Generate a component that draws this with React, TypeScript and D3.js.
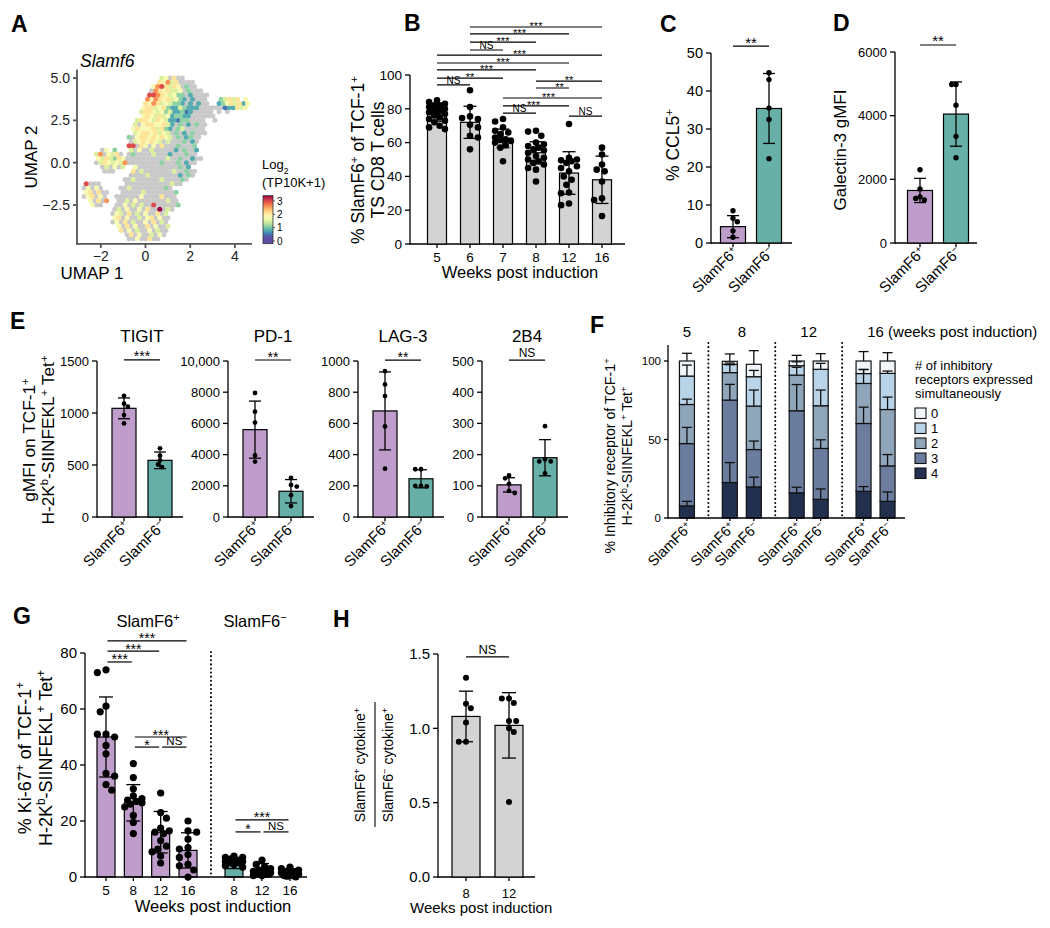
import React from 'react';
import * as d3 from 'd3';

const FONT = "'Liberation Sans', Arial, Helvetica, sans-serif";
const PURPLE = '#bf9dcb';
const TEAL = '#66b0a7';
const GREY_BAR = '#d3d3d3';
const UMAP_GREY = '#c9c9c9';

// ---------------- Panel A: UMAP, Slamf6 expression (grid) ----------
// ' ' = no cell, '.' = not detected (grey), digits = expression class
const umapRows: string[] = [
  '                    45.6..',
  '                   65746....',
  '                  5786465.3..',
  '                 .7656445.3...',
  '                 887654533.2....',
  '                7576564532.2...   34646 5',
  '                6576454332.2.2..  23564625',
  '               56645632243222......122645',
  '               4665453422312..... . .',
  '               565464523322......',
  '              4665465422133....  .',
  '             4.56655642.3.2.3..',
  '             5655564632.34.....',
  '             456656454.3.2.3...',
  '            3.566565654.3.23..',
  '            .4565654.4...3.2.',
  '            88.65.5.6...3...3',
  '     .5 3   4.5..4.....2.3..2',
  '    47.546. .3....4...2...3..',
  '    5464365..........4..3..2..',
  '    .4654547........3...3.2..',
  '     .4.5.4  5..........3.2',
  '      ...    6.4.......4..3..',
  '            ....4.......2.3.',
  '           ..4......4....3.',
  ' 8...      ...........4..',
  ' .5.5.    ..4........3.',
  ' 56.6..   .....4.......3',
  ' .56.5.  ......5....6...',
  '  5.6.7  ..4.5.......4..',
  '   5..   ..5.4.4..8.....3',
  '        .4.5..5.6..9.4.',
  '        .54.6.4.5..6.4',
  '        56.5..4.56.5..',
  '        .5.6.4..5.6.4.',
  '         5.6.5..6.5..4',
  '          6.5.4..5.4..',
  '           .6.5..4.5.',
  '            ..5..6..',
];
const umapLevels: Record<string, number> = {
  '1': 0.5, '2': 0.8, '3': 1.1, '4': 1.5, '5': 1.8, '6': 2.1, '7': 2.6, '8': 3.0, '9': 3.4,
};
const umapGrid = { x0: -2.93, dx: 0.183, y0: 5.0, dy: 0.25 };
const umapXTicks = [-2, 0, 2, 4];
const umapYTicks = [-2.5, 0, 2.5, 5];
const colorbarTicks = [0, 1, 2, 3];

// ---------------- Panel B ----------------
const bWeeks = ['5', '6', '7', '8', '12', '16'];
const bMeans = [77, 72, 62.5, 54, 42, 38];
const bSDs = [4.3, 9.5, 5.5, 6.5, 12.6, 14];
const bPoints = [
  [85, 84, 83, 82, 82, 81, 80, 80, 79, 79, 78, 78, 77, 76, 75, 74, 73, 72, 70, 69, 68],
  [91, 81, 75.5, 74.5, 74, 70.5, 69, 64, 63, 56],
  [74, 72.5, 69, 67, 66, 65, 63, 62, 61.5, 61, 60, 58.5, 57, 49],
  [67, 66.5, 64, 60, 59, 58, 57, 56, 55.5, 54, 52, 51, 50, 49, 48, 47, 45, 44, 37],
  [71, 51, 50, 49.5, 49, 48, 46, 45, 43, 40, 38, 35, 30.5, 30, 24, 23],
  [57, 53, 47, 44, 43, 37, 27, 26, 16.5],
];
const bYTicks = [0, 20, 40, 60, 80, 100];
const bSig = [
  { a: '6', b: '16', level: 128.4, label: '***' },
  { a: '6', b: '12', level: 124.3, label: '***' },
  { a: '6', b: '8', level: 119.5, label: '***' },
  { a: '6', b: '7', level: 114.8, label: 'NS' },
  { a: '5', b: '16', level: 111.8, label: '***' },
  { a: '5', b: '12', level: 107.1, label: '***' },
  { a: '5', b: '8', level: 103, label: '***' },
  { a: '5', b: '7', level: 98.2, label: '**' },
  { a: '5', b: '6', level: 94.1, label: 'NS' },
  { a: '8', b: '16', level: 96.4, label: '**' },
  { a: '8', b: '12', level: 92.3, label: '**' },
  { a: '7', b: '16', level: 86.4, label: '***' },
  { a: '7', b: '12', level: 81.7, label: '***' },
  { a: '7', b: '8', level: 77.5, label: 'NS' },
  { a: '12', b: '16', level: 75.7, label: 'NS' },
];

// ---------------- Panels C, D ----------------
const slamGroups = ['SlamF6^{+}', 'SlamF6^{−}'];
const cMeans = [4.3, 35.4];
const cSDs = [2.9, 9.2];
const cPoints = [[8.5, 6.5, 5.6, 3.2, 1.5], [44.8, 43, 35.5, 32.5, 22.2]];
const cTicks = [0, 10, 20, 30, 40, 50];
const cSig = { label: '**', level: 51.8 };

const dMeans = [1650, 4050];
const dSDs = [380, 1010];
const dPoints = [[2300, 1700, 1450, 1400, 1350], [4980, 4980, 4330, 3350, 2680]];
const dTicks = [0, 2000, 4000, 6000];
const dSig = { label: '**', level: 6220 };

// ---------------- Panel E ----------------
const eMarkers = ['TIGIT', 'PD-1', 'LAG-3', '2B4'];
const eTicks = [
  [0, 500, 1000, 1500],
  [0, 2000, 4000, 6000, 8000, 10000],
  [0, 200, 400, 600, 800, 1000],
  [0, 100, 200, 300, 400, 500],
];
const ePosMeans = [1045, 5600, 680, 103];
const ePosSDs = [100, 1830, 250, 23];
const eNegMeans = [545, 1650, 245, 190];
const eNegSDs = [80, 750, 58, 58];
const ePosPoints = [
  [1165, 1090, 1060, 980, 900],
  [7950, 6750, 6050, 3950, 3550],
  [935, 850, 775, 580, 310],
  [133, 124, 106, 84, 77],
];
const eNegPoints = [
  [660, 590, 545, 505, 480],
  [2500, 2050, 1950, 1400, 700],
  [306, 306, 200, 200, 196],
  [291, 185, 178, 178, 140],
];
const eSigLabels = ['***', '**', '**', 'NS'];
const eSigLevels = [1510, 10064, 1006, 503];

// ---------------- Panel F ----------------
const fWeeks = ['5', '8', '12', '16'];
const fBarWeek = ['5', '8', '8', '12', '12', '16', '16'];
const fBarSign = ['+', '+', '−', '+', '−', '+', '−'];
const fKeys = ['4', '3', '2', '1', '0'];
const f4 = [7.7, 22.6, 19.8, 16, 11.9, 17, 10.6];
const f3 = [39.7, 52.5, 23.8, 52.3, 32.4, 43.2, 22.6];
const f2 = [24.9, 17.5, 27.7, 22.7, 27.2, 25.5, 35.9];
const f1 = [18.1, 5.3, 18.7, 6, 23.2, 6.3, 23];
const f0 = [9.6, 1.9, 7.9, 3, 5.3, 8, 7.9];
const fe4 = [2.9, 12.7, 6.2, 3.6, 6.6, 3, 6];
const fe3 = [10.3, 10, 5.4, 16.7, 5.5, 10.4, 7.2];
const fe2 = [3.4, 5, 10.2, 5, 10, 9, 7.9];
const fe1 = [7, 0.8, 4, 2.5, 3.8, 2.5, 1.5];
const fe0 = [4.9, 4.7, 8.7, 3.6, 4.7, 6, 5.3];
const fColors: Record<string, string> = {
  '0': '#f1f4f8', '1': '#b9d4e8', '2': '#8fa5ba', '3': '#6b7c9f', '4': '#222f4f',
};
const fTicks = [0, 50, 100];
const fLegendTitle = ['# of inhibitory', 'receptors expressed', 'simultaneously'];

// ---------------- Panel G ----------------
const gPosWeeks = ['5', '8', '12', '16'];
const gNegWeeks = ['8', '12', '16'];
const gPosMeans = [50, 26.5, 16, 9.5];
const gPosSDs = [14.3, 6.5, 7.4, 6.3];
const gNegMeans = [5, 2.2, 1.5];
const gNegSDs = [2, 2.6, 1.5];
const gPosPoints = [
  [74, 73, 61, 59, 51, 51, 50, 47, 44, 37, 36, 33, 31],
  [40.5, 35.5, 31.5, 29, 28, 27.5, 27, 26.5, 26, 25, 22, 19.5, 15.5],
  [30, 23, 21, 17.5, 16.5, 16, 15.5, 13, 11, 10, 9, 7.5, 5],
  [20, 16.5, 16, 13.5, 10.5, 10, 8, 7, 4.5, 4, 2.5, 0],
];
const gNegPoints = [
  [7.5, 7, 7, 6.5, 6, 5.5, 5.5, 5, 5, 4.5, 4, 3.5],
  [6, 4.5, 3.5, 3, 2.5, 2, 2, 1.5, 1, 1, 0.5, 0.5],
  [3.5, 3, 2.5, 2, 2, 1.5, 1, 1, 0.5, 0.5, 0.3, 0],
];
const gTicks = [0, 20, 40, 60, 80];
const gSig = [
  { set: 'pos', a: '5', b: '16', level: 84.3, label: '***' },
  { set: 'pos', a: '5', b: '12', level: 80.7, label: '***' },
  { set: 'pos', a: '5', b: '8', level: 76.8, label: '***' },
  { set: 'pos', a: '8', b: '16', level: 50, label: '***' },
  { set: 'pos', a: '8', b: '12', level: 46.4, label: '*' },
  { set: 'pos', a: '12', b: '16', level: 46.4, label: 'NS' },
  { set: 'neg', a: '8', b: '16', level: 20.4, label: '***' },
  { set: 'neg', a: '8', b: '12', level: 16.1, label: '*' },
  { set: 'neg', a: '12', b: '16', level: 16.1, label: 'NS' },
];

// ---------------- Panel H ----------------
const hWeeks = ['8', '12'];
const hMeans = [1.08, 1.02];
const hSDs = [0.17, 0.22];
const hPoints = [
  [1.34, 1.165, 1.135, 1.04, 0.91, 0.91],
  [1.2, 1.2, 1.17, 1.05, 1.05, 1.0, 0.975, 0.505],
];
const hTicks = [0, 0.5, 1, 1.5];
const hSig = { a: '8', b: '12', level: 1.48, label: 'NS' };

// =============== helpers =================
function Rich({ text, fs, ...rest }: any) {
  const parts: any[] = [];
  const re = /(\^\{[^}]*\}|_\{[^}]*\})/g;
  let last = 0;
  let m: RegExpExecArray | null;
  let k = 0;
  while ((m = re.exec(text))) {
    if (m.index > last) parts.push(<tspan key={k++}>{text.slice(last, m.index)}</tspan>);
    const sup = m[0][0] === '^';
    parts.push(
      <tspan key={k++} baselineShift={sup ? 'super' : 'sub'} fontSize={fs * 0.66}>
        {m[0].slice(2, -1)}
      </tspan>
    );
    last = m.index + m[0].length;
  }
  if (last < text.length) parts.push(<tspan key={k++}>{text.slice(last)}</tspan>);
  return (
    <text fontSize={fs} fill="#000" {...rest}>
      {parts}
    </text>
  );
}

function swarm(vals: number[], py: (v: number) => number, r: number, maxOff: number): number[] {
  const idx = vals.map((_, i) => i).sort((a, b) => vals[b] - vals[a]);
  const placed: { x: number; y: number }[] = [];
  const out: number[] = new Array(vals.length).fill(0);
  const minDist = 2 * r * 0.95;
  const step = r * 0.8;
  idx.forEach((i, n) => {
    const yy = py(vals[i]);
    const cands = [0];
    for (let k = 1; k * step <= maxOff + 1e-6; k++) {
      if (n % 2) cands.push(-k * step, k * step);
      else cands.push(k * step, -k * step);
    }
    let best = 0;
    let bestD = -1;
    for (const c of cands) {
      let md = Infinity;
      for (const p of placed) md = Math.min(md, Math.hypot(p.x - c, p.y - yy));
      if (md >= minDist) {
        best = c;
        break;
      }
      if (md > bestD) {
        bestD = md;
        best = c;
      }
    }
    placed.push({ x: best, y: yy });
    out[i] = best;
  });
  return out;
}

function YAxis({ x, y, ticks, fmt = (d: number) => String(d), fs, top, tl = 5, sw = 1.3, color = '#000', gap = 3 }: any) {
  const y0 = y.range()[0];
  const yt = top ?? y.range()[1];
  return (
    <g>
      <line x1={x} x2={x} y1={y0 + sw / 2} y2={yt} stroke={color} strokeWidth={sw} />
      {ticks.map((t: number) => (
        <g key={t}>
          <line x1={x - tl} x2={x} y1={y(t)} y2={y(t)} stroke={color} strokeWidth={sw} />
          <text x={x - tl - gap} y={y(t)} dy="0.36em" textAnchor="end" fontSize={fs} fill={color === '#000' ? '#000' : '#222'}>
            {fmt(t)}
          </text>
        </g>
      ))}
    </g>
  );
}

function XAxis({ x0, x1, y, ticks = [], tl = 4, sw = 1.3 }: any) {
  return (
    <g>
      <line x1={x0} x2={x1} y1={y} y2={y} stroke="#000" strokeWidth={sw} />
      {ticks.map((t: number, i: number) => (
        <line key={i} x1={t} x2={t} y1={y} y2={y + tl} stroke="#000" strokeWidth={sw} />
      ))}
    </g>
  );
}

function Sig({ x1, x2, y, label, fs = 11, nsFs = 11, starDy = 2, nsDy = -1.5, sw = 1.1, dx = 0 }: any) {
  const isNS = label === 'NS';
  return (
    <g>
      <line x1={x1} x2={x2} y1={y} y2={y} stroke="#000" strokeWidth={sw} />
      <text x={(x1 + x2) / 2 + dx} y={y + (isNS ? nsDy : starDy)} textAnchor="middle" fontSize={isNS ? nsFs : fs} fill="#000">
        {label}
      </text>
    </g>
  );
}

function BarDots({ cx, bw, y, mean, sd, pts, fill, r, cap, maxOff }: any) {
  const offs = swarm(pts, y, r, maxOff);
  const y0 = y(0);
  const lo = y(Math.max(0, mean - sd));
  const hi = y(mean + sd);
  return (
    <g>
      <rect x={cx - bw / 2} y={y(mean)} width={bw} height={y0 - y(mean)} fill={fill} stroke="#000" strokeWidth={1.2} />
      {pts.map((v: number, i: number) => (
        <circle key={i} cx={cx + offs[i]} cy={y(v)} r={r} fill="#000" />
      ))}
      <line x1={cx} x2={cx} y1={lo} y2={hi} stroke="#000" strokeWidth={1.3} />
      <line x1={cx - cap / 2} x2={cx + cap / 2} y1={hi} y2={hi} stroke="#000" strokeWidth={1.3} />
      {mean - sd > 0 && <line x1={cx - cap / 2} x2={cx + cap / 2} y1={lo} y2={lo} stroke="#000" strokeWidth={1.3} />}
    </g>
  );
}

function RotLabel({ x, y, text, fs }: any) {
  return <Rich text={text} fs={fs} textAnchor="end" transform={`translate(${x},${y}) rotate(-45)`} />;
}

function VLabel({ x, y, text, fs }: any) {
  return <Rich text={text} fs={fs} textAnchor="middle" transform={`translate(${x},${y}) rotate(-90)`} />;
}

function Letter({ x, y, t }: any) {
  return (
    <text x={x} y={y} fontSize={23} fontWeight="bold">
      {t}
    </text>
  );
}

// =============== Panel A =================
function PanelA() {
  const ux = d3.scaleLinear().domain([0, 4]).range([145.5, 234.9]);
  const uy = d3.scaleLinear().domain([-2.5, 5]).range([205, 78]);
  const col = d3
    .scaleSequential((t: number) => d3.interpolateSpectral(1 - t))
    .domain([0.3, 3.4])
    .clamp(true);
  const greys: number[][] = [];
  const colored: number[][] = [];
  umapRows.forEach((row, r) => {
    for (let c = 0; c < row.length; c++) {
      const ch = row[c];
      if (ch === ' ') continue;
      const u1 = umapGrid.x0 + umapGrid.dx * (c + (r % 2 ? 0.5 : 0));
      const u2 = umapGrid.y0 - umapGrid.dy * r;
      if (ch === '.') greys.push([u1, u2]);
      else colored.push([u1, u2, umapLevels[ch]]);
    }
  });
  colored.sort((a, b) => a[2] - b[2]);
  const axY = uy(-4.8);
  const axX = 77;
  const cb = d3.scaleLinear().domain([0, 3]).range([241, 201]);
  const cbTop = 3.4;
  const cbBot = -0.2;
  const stops = d3.range(0, 1.0001, 0.05).map((t) => ({ t, c: col(cbBot + t * (cbTop - cbBot)) }));
  const fmt = d3.format('.1f');
  return (
    <g>
      <defs>
        <linearGradient id="cbgrad" x1="0" y1="1" x2="0" y2="0">
          {stops.map((s, i) => (
            <stop key={i} offset={s.t} stopColor={s.c as string} />
          ))}
        </linearGradient>
      </defs>
      <Letter x={11} y={32} t="A" />
      <text x={80} y={67} fontSize={17.5} fontStyle="italic">
        Slamf6
      </text>
      {greys.map((p, i) => (
        <circle key={'g' + i} cx={ux(p[0])} cy={uy(p[1])} r={2.5} fill={UMAP_GREY} />
      ))}
      {colored.map((p, i) => (
        <circle key={'c' + i} cx={ux(p[0])} cy={uy(p[1])} r={2.5} fill={col(p[2]) as string} />
      ))}
      <YAxis x={axX} y={d3.scaleLinear().domain([-4.8, 5.5]).range([axY, uy(5.5)])} ticks={umapYTicks} fmt={fmt} fs={14} color="#555" sw={1.8} tl={4} />
      <line x1={axX - 0.9} x2={252} y1={axY} y2={axY} stroke="#555" strokeWidth={1.8} />
      {umapXTicks.map((t) => (
        <g key={t}>
          <line x1={ux(t)} x2={ux(t)} y1={axY} y2={axY + 4} stroke="#555" strokeWidth={1.8} />
          <text x={ux(t)} y={axY + 17} textAnchor="middle" fontSize={14} fill="#222">
            {d3.format('d')(t)}
          </text>
        </g>
      ))}
      <text x={92} y={axY + 35} textAnchor="middle" fontSize={17}>
        UMAP 1
      </text>
      <text transform={`translate(37,157) rotate(-90)`} textAnchor="middle" fontSize={17}>
        UMAP 2
      </text>
      <Rich text="Log_{2}" fs={13} x={262} y={169} />
      <text x={262} y={187} fontSize={13}>
        (TP10K+1)
      </text>
      <rect x={263} y={cb(cbTop)} width={10} height={cb(cbBot) - cb(cbTop)} fill="url(#cbgrad)" stroke="#333" strokeWidth={0.8} />
      {colorbarTicks.map((t) => (
        <g key={t}>
          <line x1={273} x2={275} y1={cb(t)} y2={cb(t)} stroke="#333" strokeWidth={0.8} />
          <text x={277} y={cb(t)} dy="0.35em" fontSize={10}>
            {t}
          </text>
        </g>
      ))}
    </g>
  );
}

// =============== Panel B =================
// small horizontal nudges of a few bracket labels, as in the reference, so they do not collide
const bLabelNudge: Record<string, number> = { '8-12': 7, '7-16': -4, '7-12': -2.5 };

function PanelB() {
  const y = d3.scaleLinear().domain([0, 100]).range([244, 75]);
  const x = d3.scalePoint<string>().domain(bWeeks).range([437, 602]);
  return (
    <g>
      <Letter x={404} y={31} t="B" />
      <YAxis x={410} y={y} ticks={bYTicks} fs={13.5} />
      <XAxis x0={410} x1={625} y={244} ticks={bWeeks.map((w) => x(w))} />
      {bWeeks.map((w, i) => (
        <BarDots key={w} cx={x(w)} bw={19} y={y} mean={bMeans[i]} sd={bSDs[i]} pts={bPoints[i]} fill={GREY_BAR} r={3.3} cap={13} maxOff={10} />
      ))}
      {bWeeks.map((w) => (
        <text key={w} x={x(w)} y={262} textAnchor="middle" fontSize={13.5}>
          {w}
        </text>
      ))}
      <text x={520} y={278} textAnchor="middle" fontSize={16.5}>
        Weeks post induction
      </text>
      <VLabel x={364} y={160} text="% SlamF6^{+} of TCF-1^{+}" fs={17.5} />
      <VLabel x={384} y={160} text="TS CD8 T cells" fs={17.5} />
      {bSig.map((s, i) => (
        <Sig key={i} x1={x(s.a)} x2={x(s.b)} y={y(s.level)} label={s.label} fs={11} nsFs={10} starDy={3.2} nsDy={-0.8} sw={1.2}
          dx={bLabelNudge[`${s.a}-${s.b}`] ?? 0} />
      ))}
    </g>
  );
}

// =============== Two-bar panel (C, D, E) =================
function TwoBar({ ax, axEnd, o1, o2, y, ticks, fmt, tfs, bw, r, cap, maxOff, means, sds, pts, sigLabel, sigLevel, sigFs, nsFs, lfs }: any) {
  const x = d3.scalePoint<string>().domain(slamGroups).range([ax + o1, ax + o2]);
  const fills = [PURPLE, TEAL];
  return (
    <g>
      <YAxis x={ax} y={y} ticks={ticks} fmt={fmt} fs={tfs} />
      <XAxis x0={ax} x1={axEnd} y={y(0)} ticks={slamGroups.map((g) => x(g))} />
      {slamGroups.map((g, i) => (
        <BarDots key={g} cx={x(g)} bw={bw} y={y} mean={means[i]} sd={sds[i]} pts={pts[i]} fill={fills[i]} r={r} cap={cap} maxOff={maxOff} />
      ))}
      {slamGroups.map((g) => (
        <RotLabel key={g} x={(x(g) as number) + 6} y={y(0) + 10} text={g} fs={lfs} />
      ))}
      <Sig x1={x(slamGroups[0])} x2={x(slamGroups[1])} y={y(sigLevel)} label={sigLabel} fs={sigFs} nsFs={nsFs ?? 12} starDy={1.5} nsDy={-3} sw={1.2} />
    </g>
  );
}

function PanelC() {
  const y = d3.scaleLinear().domain([0, 50]).range([243, 53]);
  return (
    <g>
      <Letter x={660} y={32} t="C" />
      <TwoBar ax={711} axEnd={792} o1={22} o2={58} y={y} ticks={cTicks} tfs={14.5} bw={25} r={2.7} cap={12} maxOff={6}
        means={cMeans} sds={cSDs} pts={cPoints} sigLabel={cSig.label} sigLevel={cSig.level} sigFs={15} lfs={15} />
      <VLabel x={679} y={145} text="% CCL5^{+}" fs={17.5} />
    </g>
  );
}

function PanelD() {
  const y = d3.scaleLinear().domain([0, 6000]).range([243, 52]);
  return (
    <g>
      <Letter x={833} y={31} t="D" />
      <TwoBar ax={895} axEnd={977} o1={25} o2={61} y={y} ticks={dTicks} tfs={13} bw={25} r={2.7} cap={12} maxOff={6}
        means={dMeans} sds={dSDs} pts={dPoints} sigLabel={dSig.label} sigLevel={dSig.level} sigFs={15} lfs={15} />
      <VLabel x={846} y={150} text="Galectin-3 gMFI" fs={17} />
    </g>
  );
}

function PanelE() {
  const axes = [97, 228, 358, 482];
  const maxes = [1500, 10000, 1000, 500];
  const fmt = (t: number) => (t >= 10000 ? d3.format(',')(t) : String(t));
  return (
    <g>
      <Letter x={10} y={329} t="E" />
      {eMarkers.map((mk, i) => {
        const y = d3.scaleLinear().domain([0, maxes[i]]).range([517, 361]);
        const ax = axes[i];
        return (
          <g key={mk}>
            <text x={ax + 45} y={342} textAnchor="middle" fontSize={17}>
              {mk}
            </text>
            <TwoBar ax={ax} axEnd={ax + 86} o1={27} o2={63} y={y} ticks={eTicks[i]} fmt={fmt} tfs={13} bw={24} r={2.4} cap={12} maxOff={6}
              means={[ePosMeans[i], eNegMeans[i]]} sds={[ePosSDs[i], eNegSDs[i]]} pts={[ePosPoints[i], eNegPoints[i]]}
              sigLabel={eSigLabels[i]} sigLevel={eSigLevels[i]} sigFs={14} nsFs={12} lfs={15} />
          </g>
        );
      })}
      <VLabel x={35} y={440} text="gMFI on TCF-1^{+}" fs={17.3} />
      <VLabel x={54} y={440} text="H-2K^{b}-SIINFEKL^{+} Tet^{+}" fs={17.3} />
    </g>
  );
}

// =============== Panel F =================
function PanelF() {
  const y = d3.scaleLinear().domain([0, 100]).range([518, 361]);
  const gs = d3.scaleBand<string>().domain(fWeeks).range([641.5, 909]);
  const bw = 15;
  const within = 24;
  const xs = fBarWeek.map((w, i) => {
    const n = fBarWeek.filter((v) => v === w).length;
    const c = (gs(w) as number) + gs.bandwidth() / 2;
    if (n === 1) return c + within / 2;
    return c + (fBarSign[i] === '+' ? -within / 2 : within / 2);
  });
  const segs: Record<string, number[]> = { '4': f4, '3': f3, '2': f2, '1': f1, '0': f0 };
  const errs: Record<string, number[]> = { '4': fe4, '3': fe3, '2': fe2, '1': fe1, '0': fe0 };
  const table = fBarWeek.map((_, i) => {
    const o: any = {};
    fKeys.forEach((k) => (o[k] = segs[k][i]));
    return o;
  });
  const series = d3.stack().keys(fKeys)(table);
  const groupCenters = fWeeks.map((w) => d3.mean(xs.filter((_, i) => fBarWeek[i] === w)) as number);
  return (
    <g>
      <Letter x={590} y={333} t="F" />
      {fWeeks.slice(1).map((w) => (
        <line key={w} x1={gs(w)} x2={gs(w)} y1={343} y2={518} stroke="#000" strokeWidth={2} strokeDasharray="0.1,4" strokeLinecap="round" />
      ))}
      {series.map((s) =>
        s.map((d, i) => (
          <rect key={s.key + i} x={xs[i] - bw / 2} y={y(d[1])} width={bw} height={y(d[0]) - y(d[1])} fill={fColors[s.key]} stroke="#111" strokeWidth={1.2} />
        ))
      )}
      {series.map((s) =>
        s.map((d, i) => {
          const e = errs[s.key][i];
          const top = y(d[1] + e);
          return (
            <g key={'e' + s.key + i}>
              <line x1={xs[i]} x2={xs[i]} y1={y(d[1])} y2={top} stroke="#111" strokeWidth={1.3} />
              <line x1={xs[i] - 5} x2={xs[i] + 5} y1={top} y2={top} stroke="#111" strokeWidth={1.3} />
            </g>
          );
        })
      )}
      <YAxis x={668} y={y} ticks={fTicks} fs={11.5} top={345} tl={4} />
      <XAxis x0={668} x1={905} y={518} ticks={xs} tl={3} />
      {fBarWeek.map((_, i) => (
        <RotLabel key={i} x={xs[i] + 6} y={528} text={fBarSign[i] === '+' ? 'SlamF6^{+}' : 'SlamF6^{−}'} fs={14.5} />
      ))}
      {fWeeks.map((w, i) =>
        i < fWeeks.length - 1 ? (
          <text key={w} x={groupCenters[i]} y={337} textAnchor="middle" fontSize={15}>
            {w}
          </text>
        ) : (
          <text key={w} x={groupCenters[i] - 8.3} y={337} fontSize={15}>
            {w} (weeks post induction)
          </text>
        )
      )}
      {fLegendTitle.map((t, i) => (
        <text key={t} x={915} y={370 + i * 14} fontSize={13}>
          {t}
        </text>
      ))}
      {['0', '1', '2', '3', '4'].map((k, i) => (
        <g key={k}>
          <rect x={915} y={408 + i * 15} width={11} height={10.5} fill={fColors[k]} stroke="#111" strokeWidth={1.1} />
          <text x={931} y={418 + i * 15} fontSize={13}>
            {k}
          </text>
        </g>
      ))}
      <VLabel x={615} y={456} text="% Inhibitory receptor of TCF-1^{+}" fs={14.2} />
      <VLabel x={632} y={456} text="H-2K^{b}-SIINFEKL^{+} Tet^{+}" fs={14.2} />
    </g>
  );
}

// =============== Panel G =================
function PanelG() {
  const y = d3.scaleLinear().domain([0, 80]).range([877, 653]);
  const xp = d3.scalePoint<string>().domain(gPosWeeks).range([106, 188]);
  const xn = d3.scalePoint<string>().domain(gNegWeeks).range([234, 290]);
  const sep = ((xp('16') as number) + (xn('8') as number)) / 2;
  const tickXs = [...gPosWeeks.map((w) => xp(w)), ...gNegWeeks.map((w) => xn(w))];
  return (
    <g>
      <Letter x={13} y={624} t="G" />
      <Rich text="SlamF6^{+}" fs={16.5} x={148} y={627} textAnchor="middle" />
      <Rich text="SlamF6^{−}" fs={16.5} x={255} y={627} textAnchor="middle" />
      <line x1={sep} x2={sep} y1={652} y2={877} stroke="#000" strokeWidth={2} strokeDasharray="0.1,4" strokeLinecap="round" />
      {gPosWeeks.map((w, i) => (
        <BarDots key={'p' + w} cx={xp(w)} bw={18} y={y} mean={gPosMeans[i]} sd={gPosSDs[i]} pts={gPosPoints[i]} fill={PURPLE} r={3.6} cap={14} maxOff={9} />
      ))}
      {gNegWeeks.map((w, i) => (
        <BarDots key={'n' + w} cx={xn(w)} bw={18} y={y} mean={gNegMeans[i]} sd={gNegSDs[i]} pts={gNegPoints[i]} fill={TEAL} r={3.6} cap={14} maxOff={11} />
      ))}
      <YAxis x={85} y={y} ticks={gTicks} fs={15} />
      <XAxis x0={85} x1={307} y={877} ticks={tickXs} />
      {gPosWeeks.map((w) => (
        <text key={'pl' + w} x={xp(w)} y={895} textAnchor="middle" fontSize={13.5}>
          {w}
        </text>
      ))}
      {gNegWeeks.map((w) => (
        <text key={'nl' + w} x={xn(w)} y={895} textAnchor="middle" fontSize={13.5}>
          {w}
        </text>
      ))}
      <text x={213} y={912} textAnchor="middle" fontSize={16.5}>
        Weeks post induction
      </text>
      <VLabel x={31} y={758} text="% Ki-67^{+} of TCF-1^{+}" fs={18} />
      <VLabel x={52} y={758} text="H-2K^{b}-SIINFEKL^{+} Tet^{+}" fs={18} />
      {gSig.map((s, i) => {
        const sx = s.set === 'pos' ? xp : xn;
        return (
          <Sig key={i} x1={(sx(s.a) as number) + 1.5} x2={(sx(s.b) as number) - 1.5} y={y(s.level)} label={s.label} fs={14} nsFs={11.5} starDy={2.5} nsDy={-1.8} sw={1.2} />
        );
      })}
    </g>
  );
}

// =============== Panel H =================
function PanelH() {
  const y = d3.scaleLinear().domain([0, 1.5]).range([877, 654]);
  const x = d3.scalePoint<string>().domain(hWeeks).range([466, 509]);
  return (
    <g>
      <Letter x={333} y={627} t="H" />
      <YAxis x={438} y={y} ticks={hTicks} fmt={d3.format('.1f')} fs={15} />
      <XAxis x0={438} x1={535} y={877} ticks={hWeeks.map((w) => x(w))} />
      {hWeeks.map((w, i) => (
        <BarDots key={w} cx={x(w)} bw={28} y={y} mean={hMeans[i]} sd={hSDs[i]} pts={hPoints[i]} fill={GREY_BAR} r={3} cap={14} maxOff={8} />
      ))}
      {hWeeks.map((w) => (
        <text key={w} x={x(w)} y={898} textAnchor="middle" fontSize={13}>
          {w}
        </text>
      ))}
      <text x={410} y={913} fontSize={15}>
        Weeks post induction
      </text>
      <Sig x1={x(hSig.a)} x2={x(hSig.b)} y={y(hSig.level)} label={hSig.label} nsFs={13} nsDy={-2.5} sw={1.2} />
      <VLabel x={365} y={765} text="SlamF6^{+} cytokine^{+}" fs={14} />
      <line x1={375} x2={375} y1={702} y2={827} stroke="#000" strokeWidth={1.1} />
      <VLabel x={393} y={765} text="SlamF6^{−} cytokine^{+}" fs={14} />
    </g>
  );
}

export default function App() {
  return (
    <div style={{ position: 'absolute', left: 0, top: 0 }}>
      <svg width={1050} height={928} style={{ display: 'block', background: '#fff' }} fontFamily={FONT}>
        <rect width={1050} height={928} fill="#fff" />
        <PanelA />
        <PanelB />
        <PanelC />
        <PanelD />
        <PanelE />
        <PanelF />
        <PanelG />
        <PanelH />
      </svg>
    </div>
  );
}
